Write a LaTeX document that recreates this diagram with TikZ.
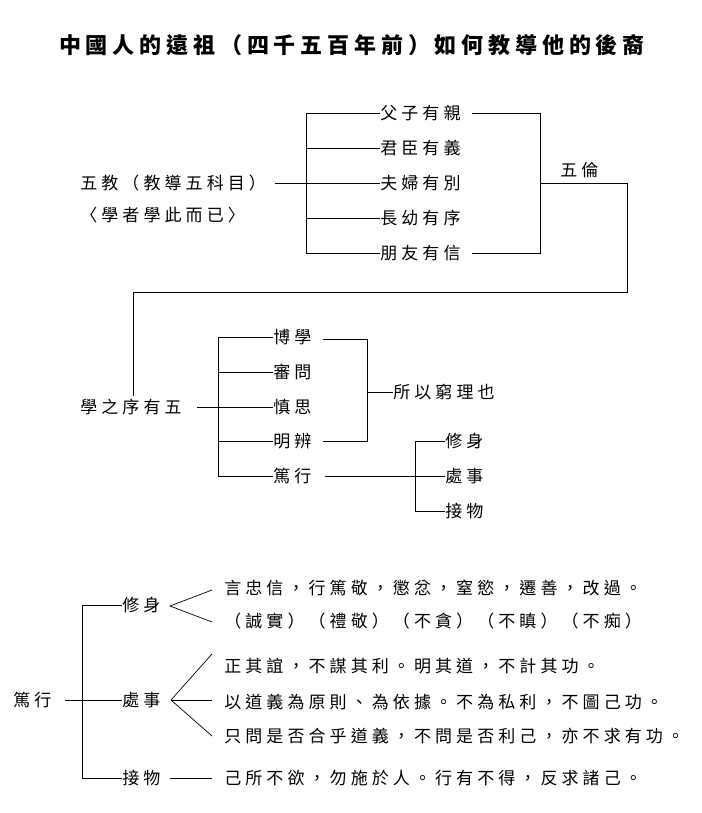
\documentclass[tikz,border=0pt]{standalone}
\usepackage{fontspec}
\newfontfamily\cjk[LetterSpace=24]{Noto Sans CJK TC}
\newfontfamily\cjktitle[LetterSpace=22]{Noto Sans CJK TC}
\usetikzlibrary{positioning}

\tikzset{
  word/.style={anchor=west, inner sep=0pt, font=\cjk\fontsize{17}{17}\selectfont},
  link/.style={line width=0.7pt}
}

\begin{document}
\begin{tikzpicture}[x=1pt, y=-1pt, link]
                    \useasboundingbox (0,0) rectangle (701,813);

                    % Title
                    \node[inner sep=0pt, font=\cjktitle\bfseries\fontsize{22}{22}\selectfont] (title) at (352,45) {中國人的遠祖（四千五百年前）如何教導他的後裔};

                    % Five teachings
                    \node[word] (wujiao) at (80,183) {五教（教導五科目）};
                    \node[word] (wujiaob) at (80,215) {〈學者學此而已〉};
                    \foreach \y/\name/\label in {113/lun1/父子有親, 148/lun2/君臣有義, 183/lun3/夫婦有別, 218/lun4/長幼有序, 253/lun5/朋友有信} {
                        \node[word] (\name) at (380,\y) {\label};
                        \draw (306,\y) -- (\name.west);
                    }
                    \draw (306,113) -- (306,253);
                    \draw (275,183) -- (306,183);
                    \draw (472,113) -- (540,113) -- (540,253) -- (472,253);
                    \node[word] (wulun) at (560,170) {五倫};
                    \coordinate (turn) at (627,292);
                    \draw (540,183) -- (627,183) -- (turn) -- (133,292) -- (133,396);

                    % Order of learning
                    \node[word] (xue) at (80,407) {學之序有五};
                    \foreach \y/\name/\label in {337/xu1/博學, 372/xu2/審問, 407/xu3/慎思, 441/xu4/明辨, 476/xu5/篤行} {
                        \node[word] (\name) at (273,\y) {\label};
                        \draw (218,\y) -- (\name.west);
                    }
                    \draw (218,337) -- (218,476);
                    \draw (197,407) -- (218,407);
                    \draw (323,339) -- (367,339) -- (367,441) -- (323,441);
                    \node[word] (qiongli) at (393,392) {所以窮理也};
                    \draw (367,392) -- (qiongli.west);
                    \foreach \y/\name/\label in {441/du1/修身, 476/du2/處事, 511/du3/接物} {
                        \node[word] (\name) at (445,\y) {\label};
                        \draw (415,\y) -- (\name.west);
                    }
                    \draw (415,441) -- (415,511);
                    \draw (325,476) -- (415,476);

                    % Practice in detail
                    \node[word] (duxing) at (13,700) {篤行};
                    \draw (65,700) -- (82,700);
                    \draw (82,605) -- (82,778);
                    \foreach \y/\name/\label in {605/xiushen/修身, 700/chushi/處事, 778/jiewu/接物} {
                        \node[word] (\name) at (122,\y) {\label};
                        \draw (82,\y) -- (\name.west);
                    }
                    \foreach \y/\name/\label in {588/t1/言忠信，行篤敬，懲忿，窒慾，遷善，改過。,
                                                621/t2/（誠實）（禮敬）（不貪）（不瞋）（不痴）,
                                                666/t3/正其誼，不謀其利。明其道，不計其功。,
                                                702/t4/以道義為原則、為依據。不為私利，不圖己功。,
                                                736/t5/只問是否合乎道義，不問是否利己，亦不求有功。,
                                                778/t6/己所不欲，勿施於人。行有不得，反求諸己。}
                        \node[word] (\name) at (224,\y) {\label};
                    \draw (212,590) -- (170,606) -- (212,622);
                    \draw (212,654) -- (171,700) -- (212,736);
                    \draw (171,700) -- (212,700);
                    \draw (170,778) -- (212,778);
\end{tikzpicture}
\end{document}
